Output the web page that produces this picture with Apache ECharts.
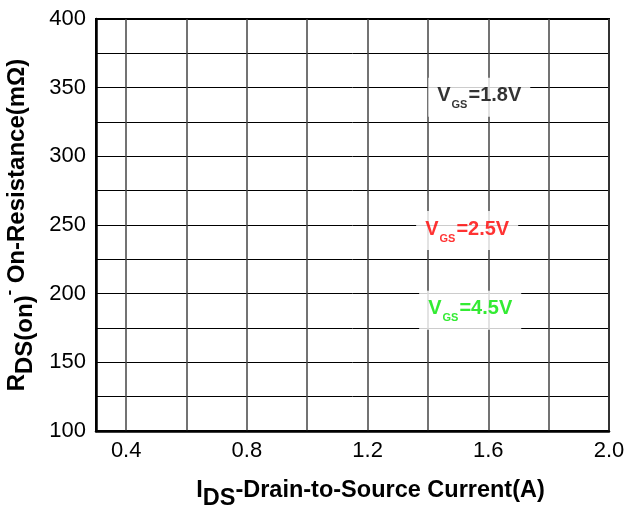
<!DOCTYPE html>
<html>
<head>
<meta charset="utf-8">
<script src="https://cdn.jsdelivr.net/npm/echarts@6/dist/echarts.min.js"></script>
<style>
  html, body { margin: 0; padding: 0; background: #fff; }
  #chart { width: 627px; height: 506px; }
</style>
</head>
<body>
<div id="chart"></div>
<script>
// axis ranges and ticks
var xRange = [0.3, 2.0];
var xStep = 0.1;          // gridlines drawn every other step (0.2)
var xLabelEvery = 0.4;
var yRange = [100, 400];
var yStep = 25;
var yLabelEvery = 50;

// curve annotations (no curves drawn in the reference)
var vgsNames = ['1.8V', '2.5V', '4.5V'];
var vgsX = [1.57, 1.53, 1.54];
var vgsY = [343, 246, 188];

var myChart = echarts.init(document.getElementById('chart'));

var font = 'Liberation Sans, Arial, sans-serif';
var colorsVgs = ['#000000', '#ff0000', '#00e600'];

function richFor(color) {
  return {
    v: { fontSize: 20, fontWeight: 'bold', color: color, fontFamily: font, verticalAlign: 'bottom', padding: [0, 0, 5, 0] },
    s: { fontSize: 11, fontWeight: 'bold', color: color, fontFamily: font, verticalAlign: 'bottom', padding: [0, 1, 0, 1] },
    e: { fontSize: 20, fontWeight: 'bold', color: color, fontFamily: font, verticalAlign: 'bottom', padding: [0, 0, 5, 0] }
  };
}

var labelData = vgsNames.map(function (n, i) {
  return {
    value: [vgsX[i], vgsY[i]],
    label: {
      show: true,
      position: 'inside',
      formatter: '{v|V}{s|GS}{e|=' + n + '}',
      backgroundColor: '#fff',
      padding: [8, 9, 6, 9],
      rich: richFor(colorsVgs[i])
    }
  };
});

myChart.setOption({
  animation: false,
  grid: {
    left: 96, right: 18, top: 19, bottom: 75,
    outerBoundsMode: 'none',
    containLabel: false,
    show: true, borderColor: '#000', borderWidth: 2
  },
  xAxis: {
    type: 'value',
    min: xRange[0], max: xRange[1], interval: xStep,
    axisLine: { show: true, lineStyle: { color: '#000', width: 2.5 } },
    axisTick: { show: false },
    axisLabel: {
      margin: 9, fontSize: 22, color: '#000', fontFamily: font,
      showMinLabel: true, showMaxLabel: true, hideOverlap: false,
      formatter: function (v) {
        var k = Math.round(v * 10);
        return k % Math.round(xLabelEvery * 10) === 0 ? (k / 10).toFixed(1) : '';
      }
    },
    splitLine: { show: true, lineStyle: { color: ['rgba(0,0,0,0)', '#444'], width: 1.5 } },
    name: '{m|I}{d|DS}{m|-Drain-to-Source Current(A)}',
    nameLocation: 'middle',
    nameGap: 48,
    nameTextStyle: {
      padding: [0, 0, 0, 36],
      rich: {
        m: { fontSize: 23.5, fontWeight: 'bold', fontFamily: font, color: '#000', verticalAlign: 'bottom', padding: [0, 0, 8, 0] },
        d: { fontSize: 23.5, fontWeight: 'bold', fontFamily: font, color: '#000', verticalAlign: 'bottom' }
      }
    }
  },
  yAxis: {
    type: 'value',
    min: yRange[0], max: yRange[1], interval: yStep,
    axisLine: { show: true, lineStyle: { color: '#000', width: 2.5 } },
    axisTick: { show: false },
    axisLabel: {
      margin: 10, fontSize: 22, color: '#000', fontFamily: font,
      formatter: function (v) { return v % yLabelEvery === 0 ? String(v) : ''; }
    },
    splitLine: { show: true, lineStyle: { color: '#000', width: 1 } },
    name: '{m|R}{d|DS(on)}{u|-}{m| On-Resistance(mΩ)}',
    nameLocation: 'middle',
    nameRotate: 90,
    nameGap: 59,
    nameTextStyle: {
      rich: {
        m: { fontSize: 24, fontWeight: 'bold', fontFamily: font, color: '#000', verticalAlign: 'bottom', padding: [0, 0, 8, 0] },
        d: { fontSize: 24, fontWeight: 'bold', fontFamily: font, color: '#000', verticalAlign: 'bottom' },
        u: { fontSize: 16, fontWeight: 'bold', fontFamily: font, color: '#000', verticalAlign: 'bottom', padding: [0, 0, 19, 0] }
      }
    }
  },
  series: [{
    type: 'scatter',
    symbolSize: 0,
    silent: true,
    data: labelData
  }]
});
</script>
</body>
</html>
